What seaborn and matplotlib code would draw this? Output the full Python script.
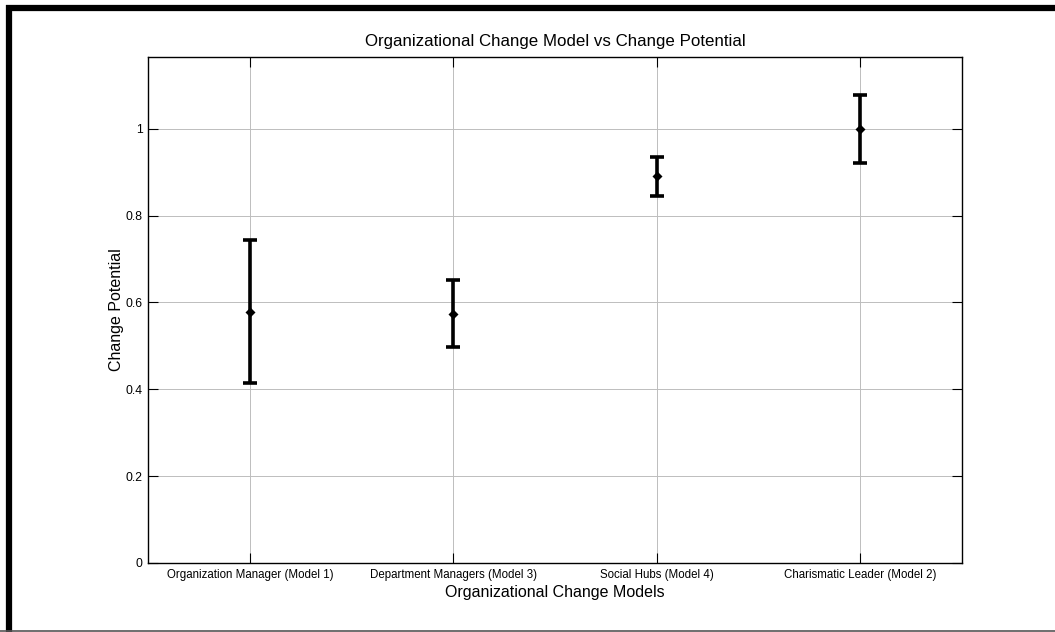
import matplotlib
matplotlib.use("Agg")
import matplotlib.pyplot as plt
from matplotlib.lines import Line2D
import seaborn as sns
import pandas as pd

models = [
    "Organization Manager (Model 1)",
    "Department Managers (Model 3)",
    "Social Hubs (Model 4)",
    "Charismatic Leader (Model 2)",
]
change_potential = [0.579, 0.574, 0.890, 1.000]
error_half_width = [0.164, 0.077, 0.045, 0.078]
y_ticks = [0, 0.2, 0.4, 0.6, 0.8, 1.0]
y_tick_labels = ["0", "0.2", "0.4", "0.6", "0.8", "1"]

df = pd.DataFrame({
    "model": models,
    "position": range(1, len(models) + 1),
    "potential": change_potential,
    "err": error_half_width,
})

sns.set_style("white")
plt.rcParams["font.family"] = ["Liberation Sans Narrow", "Liberation Sans", "DejaVu Sans"]
plt.rcParams["text.color"] = "black"
plt.rcParams["axes.labelcolor"] = "black"

fig = plt.figure(figsize=(10.55, 6.32), dpi=100)
ax = fig.add_axes([0.1403, 0.1092, 0.9118 - 0.1403, 0.9098 - 0.1092])

# Grid first so the error bars sit on top
ax.set_axisbelow(True)
ax.grid(True, color="#bdbdbd", linewidth=0.7)

ax.errorbar(df["position"], df["potential"], yerr=df["err"], fmt="none",
            ecolor="black", elinewidth=2.6, capsize=4.8, capthick=2.6, zorder=3)
sns.scatterplot(data=df, x="position", y="potential", ax=ax, color="black",
                marker="D", s=26, edgecolor="black", linewidth=0, zorder=4, legend=False)

ax.set_xlim(0.5, 4.5)
ax.set_ylim(0, 1.165)
ax.set_xticks(df["position"])
ax.set_xticklabels(models, fontsize=8.3)
ax.set_yticks(y_ticks)
ax.set_yticklabels(y_tick_labels, fontsize=8.8)
ax.tick_params(direction="in", length=7, width=0.8, top=True, right=True,
               bottom=True, left=True, pad=4, colors="black")
for s in ax.spines.values():
    s.set_visible(True)
    s.set_color("black")
    s.set_linewidth(1.0)

ax.set_xlabel("Organizational Change Models", fontsize=11.5, labelpad=3,
              family=["Liberation Sans", "DejaVu Sans"])
ax.set_ylabel("Change Potential", fontsize=11.5, labelpad=1,
              family=["Liberation Sans", "DejaVu Sans"])
ax.set_title("Organizational Change Model vs Change Potential", fontsize=12.2,
             pad=8, family=["Liberation Sans", "DejaVu Sans"])

# Frame around the figure
fig.add_artist(Line2D([9 / 1055, 9 / 1055], [0, 1 - 5 / 632], transform=fig.transFigure,
                      color="black", linewidth=4.5, solid_capstyle="butt"))
fig.add_artist(Line2D([6 / 1055, 1], [1 - 8 / 632, 1 - 8 / 632], transform=fig.transFigure,
                      color="black", linewidth=4.5, solid_capstyle="butt"))
fig.add_artist(Line2D([0, 1], [1.5 / 632, 1.5 / 632], transform=fig.transFigure,
                      color="#555555", linewidth=1.2, solid_capstyle="butt"))

fig.savefig("out.png", dpi=100)
